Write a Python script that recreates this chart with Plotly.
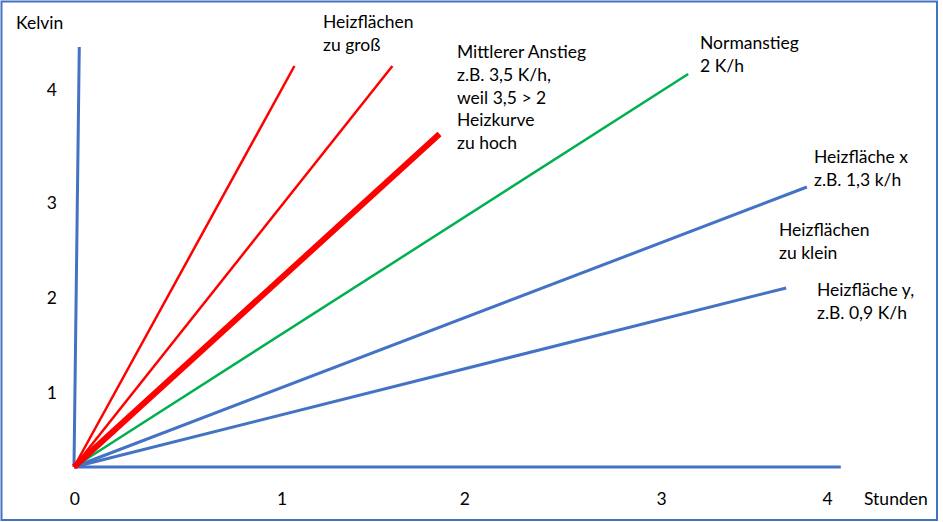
import plotly.graph_objects as go

# Endpunkte der Anstiegsgeraden (Start jeweils im Ursprung), in Stunden / Kelvin
linien_namen = ["zu groß 1", "zu groß 2", "Mittlerer Anstieg", "Normanstieg",
                "Heizfläche x", "Heizfläche y"]
stunden_ende = [1.17, 1.69, 1.94, 3.26, 3.89, 3.78]
kelvin_ende = [4.01, 4.01, 3.33, 3.93, 2.80, 1.79]
farben = ["#FF0000", "#FF0000", "#FF0000", "#00B050", "#4472C4", "#4472C4"]
breiten = [2.5, 2.5, 6, 2.5, 3, 3]

# gezeichnete Achsen (Ende der Achslinien)
x_achse_ende = [4.07, 0.0]
y_achse_ende = [0.028, 4.20]

# Beschriftung der Achsen (Positionen wie im Bild, nicht gleichmäßig)
x_tick_pos = [0.004, 1.104, 2.075, 3.119, 4.0]
x_tick_text = ["0", "1", "2", "3", "4"]
y_tick_pos = [0.743, 1.69, 2.64, 3.77]
y_tick_text = ["1", "2", "3", "4"]

W, H = 943, 522
X0, Y0 = 74, 467        # Ursprung in Pixeln
SX, SY = 188.4, 100     # Pixel je Stunde / je Kelvin
FONT = "Lato"
BLAU = "#4472C4"


def px(x, y):
    # Pixel -> Papierkoordinaten
    return x / W, 1 - y / H


fig = go.Figure()

# Achsenlinien
for end in (x_achse_ende, y_achse_ende):
    fig.add_trace(go.Scatter(x=[0, end[0]], y=[0, end[1]], mode="lines",
                             line=dict(color=BLAU, width=3), hoverinfo="skip"))

# Reihenfolge: blau, grün, rot (rot liegt oben)
for i in [4, 5, 3, 0, 1, 2]:
    fig.add_trace(go.Scatter(x=[0, stunden_ende[i]], y=[0, kelvin_ende[i]],
                             mode="lines", name=linien_namen[i],
                             line=dict(color=farben[i], width=breiten[i])))

texte = [
    ("Heizflächen<br>zu groß", 321, 9),
    ("Mittlerer Anstieg<br>z.B. 3,5 K/h,<br>weil 3,5 > 2<br>Heizkurve<br>zu hoch", 455, 39),
    ("Normanstieg<br>2 K/h", 698, 30),
    ("Heizfläche x<br>z.B. 1,3 k/h", 812, 144),
    ("Heizflächen<br>zu klein", 777, 217),
    ("Heizfläche y,<br>z.B. 0,9 K/h", 815, 277),
    ("Kelvin", 14, 10),
    ("Stunden", 862, 486),
]
for t, x, y in texte:
    ax, ay = px(x, y)
    fig.add_annotation(text=t, x=ax, y=ay, xref="paper", yref="paper",
                       xanchor="left", yanchor="top", align="left",
                       showarrow=False, font=dict(family=FONT, size=17.5, color="black"))

# Rahmen
bx0, by0 = px(1.5, 1.5)
bx1, by1 = px(937, 520)
fig.add_shape(type="rect", xref="paper", yref="paper",
              x0=bx0, x1=bx1, y0=by1, y1=by0,
              line=dict(color=BLAU, width=2))

fig.update_layout(
    width=W, height=H,
    margin=dict(l=0, r=0, t=0, b=0),
    paper_bgcolor="white", plot_bgcolor="white",
    showlegend=False,
    font=dict(family=FONT, size=17.5, color="black"),
    xaxis=dict(range=[-X0 / SX, (W - X0) / SX], showgrid=False, zeroline=False,
               showline=False, ticks="", tickvals=x_tick_pos, ticktext=x_tick_text,
               anchor="free", position=px(0, 486)[1], fixedrange=True),
    yaxis=dict(range=[(Y0 - H) / SY, Y0 / SY], showgrid=False, zeroline=False,
               showline=False, ticks="", tickvals=y_tick_pos, ticktext=y_tick_text,
               anchor="free", position=px(57, 0)[0], fixedrange=True),
)

# Seitenrand entfernen, damit die Grafik das ganze Fenster füllt
fig.write_html("out.html", config={"displayModeBar": False},
               post_script="document.body.style.margin = '0';")
